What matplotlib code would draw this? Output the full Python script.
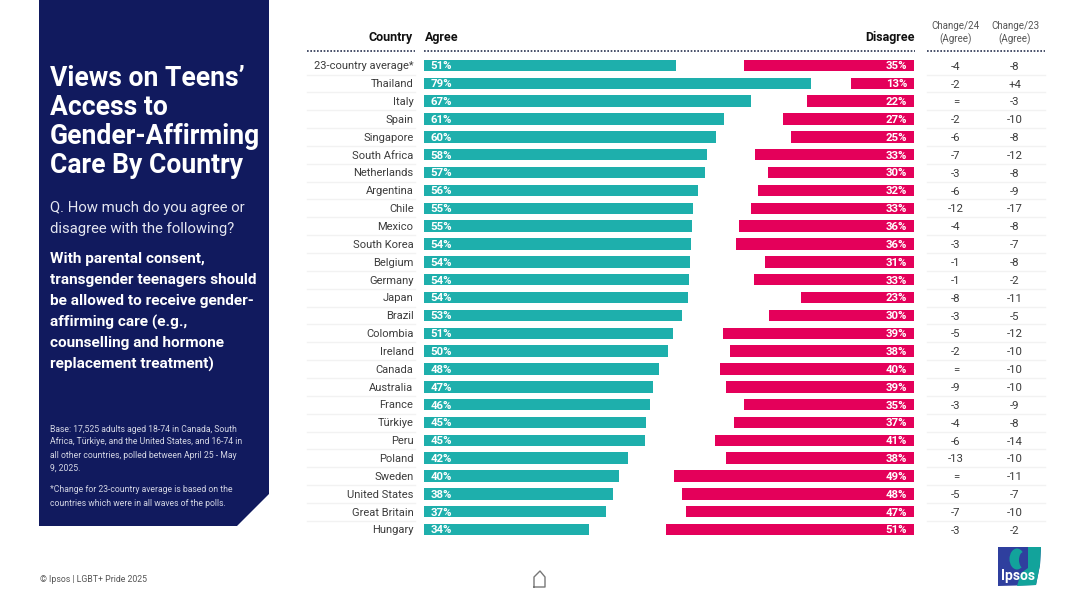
#!/usr/bin/env python3

import matplotlib
matplotlib.use("Agg")
import matplotlib.pyplot as plt
from matplotlib.patches import Ellipse, Polygon

COUNTRIES = [
    "23-country average*", "Thailand", "Italy", "Spain", "Singapore", "South Africa",
    "Netherlands", "Argentina", "Chile", "Mexico", "South Korea", "Belgium", "Germany",
    "Japan", "Brazil", "Colombia", "Ireland", "Canada", "Australia", "France", "Türkiye",
    "Peru", "Poland", "Sweden", "United States", "Great Britain", "Hungary",
]
# printed (rounded) percentages
AGREE = [51, 79, 67, 61, 60, 58, 57, 56, 55, 55, 54, 54, 54, 54, 53, 51, 50, 48, 47, 46, 45, 45, 42, 40, 38, 37, 34]
DISAGREE = [35, 13, 22, 27, 25, 33, 30, 32, 33, 36, 36, 31, 33, 23, 30, 39, 38, 40, 39, 35, 37, 41, 38, 49, 48, 47, 51]
# bar lengths, they carry the unrounded values
AGREE_LEN = [51.4, 79.0, 66.7, 61.2, 59.6, 57.8, 57.3, 55.9, 54.9, 54.7, 54.5, 54.3, 54.1, 53.9,
             52.7, 50.8, 49.8, 48.0, 46.7, 46.1, 45.3, 45.2, 41.6, 39.8, 38.6, 37.1, 33.7]
DISAGREE_LEN = [34.7, 12.9, 21.8, 26.7, 25.1, 32.4, 29.8, 31.8, 33.3, 35.7, 36.3, 30.4, 32.7, 23.1,
                29.6, 39.0, 37.6, 39.6, 38.4, 34.7, 36.7, 40.6, 38.4, 49.0, 47.3, 46.5, 50.6]
CHANGE_24 = ["-4", "-2", "=", "-2", "-6", "-7", "-3", "-6", "-12", "-4", "-3", "-1", "-1", "-8",
             "-3", "-5", "-2", "=", "-9", "-3", "-4", "-6", "-13", "=", "-5", "-7", "-3"]
CHANGE_23 = ["-8", "+4", "-3", "-10", "-8", "-12", "-8", "-9", "-17", "-8", "-7", "-8", "-2", "-11",
             "-5", "-12", "-10", "-10", "-10", "-9", "-8", "-14", "-10", "-11", "-7", "-10", "-2"]

TITLE_LINES = ["Views on Teens’", "Access to", "Gender-Affirming", "Care By Country"]
QUESTION_LINES = ["Q. How much do you agree or", "disagree with the following?"]
STATEMENT_LINES = ["With parental consent,", "transgender teenagers should", "be allowed to receive gender-",
                   "affirming care (e.g.,", "counselling and hormone", "replacement treatment)"]
BASE_LINES = ["Base: 17,525 adults aged 18-74 in Canada, South", "Africa, Türkiye, and the United States, and 16-74 in",
              "all other countries, polled between April 25 - May", "9, 2025."]
NOTE_LINES = ["*Change for 23-country average is based on the", "countries which were in all waves of the polls."]

NAVY = "#111a5e"
TEAL = "#1eafac"
PINK = "#e4005a"
INK = "#3c3c3c"

W, H = 1080, 607
ROW0, ROW_STEP = 65.5, 17.85


def main() -> None:
    plt.rcParams["font.family"] = ["Roboto", "DejaVu Sans"]
    fig = plt.figure(figsize=(W / 100, H / 100), dpi=100, facecolor="white")

    # full-figure layer in pixel coordinates for the panel, columns and furniture
    page = fig.add_axes([0, 0, 1, 1])
    page.set_xlim(0, W)
    page.set_ylim(H, 0)
    page.axis("off")

    page.add_patch(Polygon([(39, 0), (269, 0), (269, 494), (237, 526), (39, 526)], color=NAVY, lw=0))
    for i, line in enumerate(TITLE_LINES):
        page.text(50, 78 + i * 29.3, line, color="white", fontsize=19.1, fontweight="bold", va="center")
    for i, line in enumerate(QUESTION_LINES):
        page.text(50, 208 + i * 21, line, color="#e4e6f0", fontsize=10.7, va="center")
    for i, line in enumerate(STATEMENT_LINES):
        page.text(50, 259 + i * 21, line, color="white", fontsize=11.1, fontweight="bold", va="center")
    for i, line in enumerate(BASE_LINES):
        page.text(49.5, 429 + i * 13, line, color="#d4d6e4", fontsize=6.25, va="center")
    for i, line in enumerate(NOTE_LINES):
        page.text(49.5, 490 + i * 13, line, color="#d4d6e4", fontsize=6.25, va="center")

    # headers
    page.text(413, 37, "Country", color="#111111", fontsize=9, fontweight="bold", ha="right", va="center")
    page.text(425, 37, "Agree", color="#111111", fontsize=9, fontweight="bold", ha="left", va="center")
    page.text(915, 37, "Disagree", color="#111111", fontsize=9, fontweight="bold", ha="right", va="center")
    page.text(956, 33, "Change/24\n(Agree)", color="#555555", fontsize=7, ha="center", va="center", linespacing=1.25)
    page.text(1015, 33, "Change/23\n(Agree)", color="#555555", fontsize=7, ha="center", va="center", linespacing=1.25)
    for x0, x1 in [(307, 415), (424, 915), (927, 1045)]:
        page.plot([x0, x1], [50.5, 50.5], color="#2a3350", lw=1.2, ls=(0, (1, 1)))

    # rows
    for i, country in enumerate(COUNTRIES):
        y = ROW0 + i * ROW_STEP
        page.text(413.5, y + 0.8, country, color=INK, fontsize=8.0, ha="right", va="center")
        page.text(956, y + 1.2, CHANGE_24[i], color=INK, fontsize=8.2, ha="center", va="center")
        page.text(1015, y + 1.2, CHANGE_23[i], color=INK, fontsize=8.2, ha="center", va="center")
        if i < len(COUNTRIES) - 1:
            for x0, x1 in [(307, 415), (927, 1045)]:
                page.plot([x0, x1], [y + 9, y + 9], color="#f2f2f2", lw=1)

    # bars, 0-100 on a 490 px wide axes
    ax = fig.add_axes([424 / W, 1 - (ROW0 + 26.5 * ROW_STEP) / H, 490 / W, 27 * ROW_STEP / H])
    ax.set_xlim(0, 100)
    ax.set_ylim(26.5, -0.5)
    ax.axis("off")
    rows = list(range(len(COUNTRIES)))
    ax.barh(rows, AGREE_LEN, height=0.64, color=TEAL)
    ax.barh(rows, DISAGREE_LEN, left=[100 - v for v in DISAGREE_LEN], height=0.64, color=PINK)
    for i in rows:
        ax.text(1.4, i + 0.05, f"{AGREE[i]}%", color="white", fontsize=8.2, fontweight="bold", va="center")
        ax.text(98.6, i + 0.05, f"{DISAGREE[i]}%", color="white", fontsize=8.2, fontweight="bold", va="center", ha="right")

    # footer
    page.text(39.5, 580, "© Ipsos | LGBT+ Pride 2025", color="#555555", fontsize=6.3, va="center")
    page.plot([534, 534, 540, 545, 545, 534], [587, 577, 571, 577, 587, 587], color="#777777", lw=1)

    # logo
    page.add_patch(Polygon([(998, 547), (1041, 547), (1040, 565), (1036, 585), (998, 586)], color="#2f3f9e", lw=0))
    page.add_patch(Ellipse((1017, 559), 15, 21, color="#12a39b", lw=0))
    page.add_patch(Polygon([(1028, 547), (1041, 547), (1040, 565), (1036, 585), (1017, 586), (1021, 573), (1028, 568)],
                           color="#12a39b", lw=0))
    page.add_patch(Ellipse((1023.5, 560), 9, 16, color="#2f3f9e", lw=0))
    page.text(1018.5, 576, "Ipsos", color="white", fontsize=10, fontweight="bold", ha="center", va="center")

    fig.savefig("out.png", dpi=100)
    plt.close(fig)


if __name__ == "__main__":
    main()
